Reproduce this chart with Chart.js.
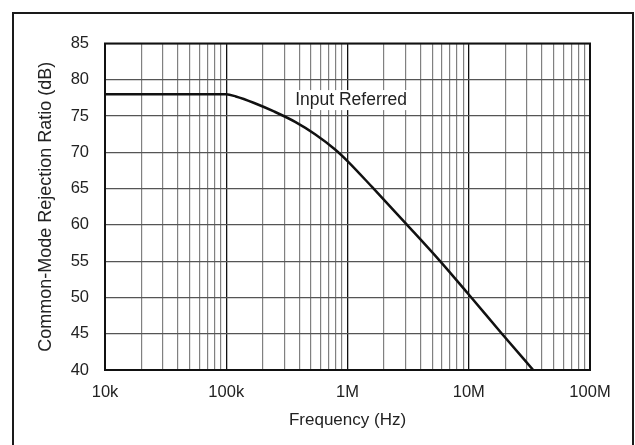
<!DOCTYPE html>
<html>
<head>
<meta charset="utf-8">
<script src="https://cdn.jsdelivr.net/npm/chart.js@4"></script>
<style>
  html, body { margin: 0; padding: 0; background: #fff; }
  #wrap { width: 635px; height: 445px; position: relative; }
</style>
</head>
<body>
<div id="wrap"><canvas id="c" width="635" height="445"></canvas></div>
<script>
// ---- data ----
const freqHz = [1e4, 1e5, 1.2e5, 1.7e5, 2.5e5, 3.7e5, 5.4e5, 7.9e5, 1e6, 1.6e6, 3.1e6, 5.8e6, 1e7, 1.9e7, 3.4e7];
const cmrrDb = [78, 78, 77.7, 76.8, 75.6, 74.2, 72.5, 70.4, 68.8, 65.2, 60.0, 55.0, 50.4, 44.9, 40];
const xDecades = [1e4, 1e5, 1e6, 1e7, 1e8];
const xTickLabels = ['10k', '100k', '1M', '10M', '100M'];
const yTicks = [40, 45, 50, 55, 60, 65, 70, 75, 80, 85];
const xTitle = 'Frequency (Hz)';
const yTitle = 'Common-Mode Rejection Ratio (dB)';
const noteText = 'Input Referred';
const noteX = 3.7e5;
const noteY = 77.2;

const FONT = 'Liberation Sans, Arial, sans-serif';
const TXT = '#222';

function isDecade(v) {
  return xDecades.some(d => Math.abs(v / d - 1) < 1e-9);
}

const framePlugin = {
  id: 'frame',
  beforeDraw(chart) {
    const ctx = chart.ctx;
    ctx.save();
    ctx.fillStyle = '#fff';
    ctx.fillRect(0, 0, chart.width, chart.height);
    ctx.strokeStyle = '#1a1a1a';
    ctx.lineWidth = 2;
    ctx.strokeRect(13, 13, 620, 470);
    ctx.restore();
  },
  afterDatasetsDraw(chart) {
    const ctx = chart.ctx;
    const a = chart.chartArea;
    const xs = chart.scales.x, ys = chart.scales.y;
    ctx.save();
    ctx.strokeStyle = '#111';
    ctx.lineWidth = 2;
    ctx.strokeRect(a.left, a.top, a.right - a.left, a.bottom - a.top);
    // annotation
    ctx.font = '17.5px ' + FONT;
    ctx.textBaseline = 'middle';
    ctx.textAlign = 'left';
    const px = xs.getPixelForValue(noteX);
    const py = ys.getPixelForValue(noteY);
    const w = ctx.measureText(noteText).width;
    ctx.fillStyle = '#fff';
    ctx.fillRect(px - 3, py - 10, w + 6, 20);
    ctx.fillStyle = TXT;
    ctx.fillText(noteText, px, py);
    ctx.restore();
  }
};

new Chart(document.getElementById('c'), {
  type: 'line',
  data: {
    datasets: [{
      data: freqHz.map((f, i) => ({ x: f, y: cmrrDb[i] })),
      borderColor: '#111',
      borderWidth: 2.5,
      pointRadius: 0,
      cubicInterpolationMode: 'monotone',
      fill: false
    }]
  },
  options: {
    responsive: false,
    animation: false,
    devicePixelRatio: 1,
    layout: { padding: { left: 0, top: 43.5, right: 45, bottom: 0 } },
    plugins: { legend: { display: false }, tooltip: { enabled: false } },
    scales: {
      x: {
        type: 'logarithmic',
        min: 1e4, max: 1e8,
        afterBuildTicks(scale) {
          const t = [];
          for (let d = 0; d < xDecades.length; d++) {
            const base = xDecades[d];
            t.push({ value: base });
            if (d < xDecades.length - 1) {
              for (let m = 2; m <= 9; m++) t.push({ value: base * m });
            }
          }
          scale.ticks = t;
        },
        afterFit(scale) { scale.height = 75; },
        ticks: {
          autoSkip: false, maxRotation: 0, minRotation: 0,
          padding: 13,
          color: TXT,
          font: { family: FONT, size: 16.5 },
          callback(v) {
            const i = xDecades.findIndex(d => Math.abs(v / d - 1) < 1e-9);
            return i >= 0 ? xTickLabels[i] : '';
          }
        },
        grid: {
          drawTicks: false,
          color: ctx => (ctx.tick && isDecade(ctx.tick.value)) ? '#111' : '#808080',
          lineWidth: ctx => (ctx.tick && isDecade(ctx.tick.value)) ? 1.3 : 1.2
        },
        border: { display: false },
        title: {
          display: true, text: xTitle, color: TXT,
          font: { family: FONT, size: 17 },
          padding: { top: 0, bottom: 14 }
        }
      },
      y: {
        type: 'linear',
        min: 40, max: 85,
        afterBuildTicks(scale) { scale.ticks = yTicks.map(v => ({ value: v })); },
        afterFit(scale) { scale.width = 105; },
        ticks: {
          padding: 16,
          color: TXT,
          font: { family: FONT, size: 16.5 },
          callback: v => String(v)
        },
        grid: { drawTicks: false, color: '#555', lineWidth: 1.3 },
        border: { display: false },
        title: {
          display: true, text: yTitle, color: TXT,
          font: { family: FONT, size: 18 },
          padding: { top: 35, bottom: 0 }
        }
      }
    }
  },
  plugins: [framePlugin]
});
</script>
</body>
</html>
